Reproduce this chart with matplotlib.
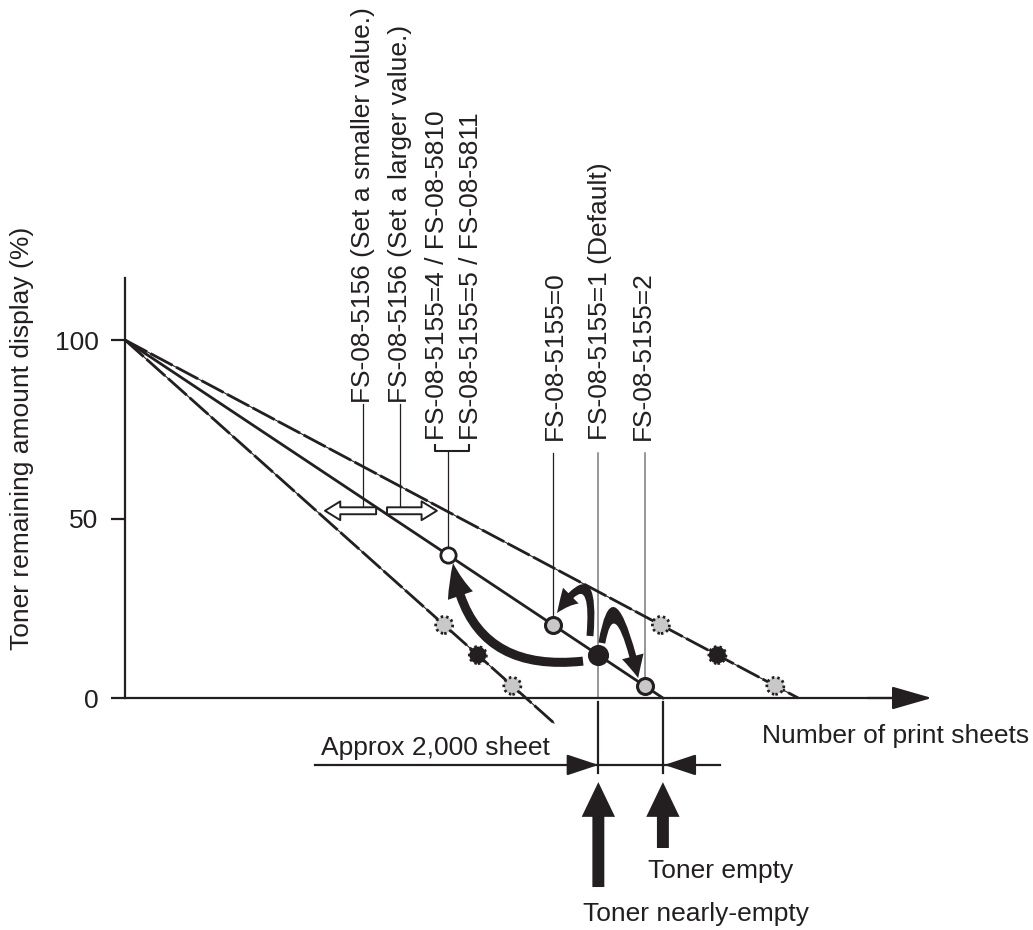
import numpy as np
import matplotlib.pyplot as plt
from matplotlib.path import Path
from matplotlib.patches import FancyArrowPatch

plt.rcParams['font.family'] = ['Liberation Sans', 'DejaVu Sans']

# ---- data (x in 1,000 sheets, y in % remaining) ----
y_ticks = [0, 50, 100]
line_names = ['smaller', 'default', 'larger']
empty_at = [12.15, 16.3, 20.4]          # sheets where each curve hits 0 %
line_styles = ['dashed', 'solid', 'dashed']
mark_levels = [20.4, 12.0, 3.4]         # FS-08-5155 = 0 / 1 / 2
mark_fill = ['#c8c8c8', '#231f20', '#c8c8c8']
open_level = 40.0                       # FS-08-5155 = 4 / 5
gap_sheets = 2.0                        # approx 2,000 sheet

top_labels = ['FS-08-5156 (Set a smaller value.)',
              'FS-08-5156 (Set a larger value.)',
              'FS-08-5155=4 / FS-08-5810',
              'FS-08-5155=5 / FS-08-5811',
              'FS-08-5155=0',
              'FS-08-5155=1 (Default)',
              'FS-08-5155=2']

ink = '#231f20'
fs = 19

fig = plt.figure(figsize=(10.33, 9.3), dpi=100)
ax = fig.add_axes([125 / 1033, 232 / 930, 772 / 1033, 420 / 930])
ax.set_xlim(0, 772 / 33)
ax.set_ylim(0, 420 / 3.58)

for s in ['top', 'right']:
    ax.spines[s].set_visible(False)
ax.spines['left'].set_linewidth(1.6)
ax.spines['bottom'].set_linewidth(1.6)
ax.spines['left'].set_color(ink)
ax.spines['bottom'].set_color(ink)
ax.set_xticks([])
ax.set_yticks(y_ticks)
ax.set_yticklabels([str(v) for v in y_ticks])
ax.tick_params(axis='y', length=10, width=1.6, pad=9, labelsize=fs,
               color=ink, labelcolor=ink)
ax.set_ylabel('Toner remaining amount display (%)', fontsize=fs, color=ink)
ax.yaxis.set_label_coords(-0.118, 0.617)

# x axis arrow head
ax.annotate('', xy=(24.45, 0), xytext=(22.5, 0), annotation_clip=False,
            arrowprops=dict(arrowstyle='-|>,head_length=2.5,head_width=0.72',
                            mutation_scale=10, lw=1.6, color=ink,
                            shrinkA=0, shrinkB=0))
ax.text(19.30, -10.75, 'Number of print sheets', fontsize=fs, color=ink,
        ha='left', va='center')

# ---- the three curves ----
for name, end, ls in zip(line_names, empty_at, line_styles):
    y_end = -7 if name == 'smaller' else 0
    xs = [0, end * (1 - y_end / 100)]
    ys = [100, y_end]
    if ls == 'solid':
        ax.plot(xs, ys, color=ink, lw=2.0, clip_on=False, zorder=3)
    else:
        ax.plot(xs, ys, color=ink, lw=0.8, clip_on=False, zorder=3)
        ax.plot(xs, ys, color=ink, lw=2.0, ls=(0, (9, 1.4)), clip_on=False, zorder=3)

x_main = lambda lvl: empty_at[1] * (1 - lvl / 100)
x_open = x_main(open_level)
x_marks = [x_main(l) for l in mark_levels]

# leader lines
lead_top = 68.44
ax.plot([x_marks[0]] * 2, [lead_top, mark_levels[0]], color=ink, lw=0.9, zorder=2)
ax.plot([x_marks[1]] * 2, [lead_top, 0], color='#7a7a7a', lw=1.1, zorder=2)
ax.plot([x_marks[2]] * 2, [lead_top, mark_levels[2]], color='#7a7a7a', lw=1.1, zorder=2)
ax.plot([x_open] * 2, [69.0, open_level], color=ink, lw=0.9, zorder=2)
# bracket for =4 / =5
bx = [9.394, 9.394, 10.424, 10.424]
ax.plot(bx, [70.67, 69.0, 69.0, 70.67], color=ink, lw=1.5)

# markers on side curves (dotted edge)
for end in [empty_at[0], empty_at[2]]:
    xs = [end * (1 - l / 100) for l in mark_levels]
    ax.scatter(xs, mark_levels, s=150, c=mark_fill, edgecolors=ink,
               linewidths=2.0, linestyle=(0, (0.9, 1.1)), zorder=5, clip_on=False)

# markers on the default curve
ax.plot(x_open, open_level, 'o', ms=11, mfc='white', mec=ink, mew=2.0, zorder=6)
for x, l, c in zip(x_marks, mark_levels, mark_fill):
    ax.plot(x, l, 'o', ms=13 if c == ink else 11.5, mfc=c, mec=ink, mew=2.2, zorder=6)

# curved arrows
def curved(p0, c, p1, style):
    path = Path([p0, c, p1], [Path.MOVETO, Path.CURVE3, Path.CURVE3])
    ax.add_patch(FancyArrowPatch(path=path, arrowstyle=style, mutation_scale=10,
                                 fc=ink, ec='none', zorder=7, clip_on=False))

curved((13.88, 10.3), (10.39, 6.8), (9.94, 37.7),
       'simple,head_length=2.4,head_width=1.9,tail_width=0.65')
curved((14.09, 17.32), (14.29, 39.8), (13.09, 23.74),
       'simple,head_length=1.6,head_width=1.6,tail_width=0.5')
curved((14.45, 15.36), (14.82, 34.78), (15.55, 5.59),
       'simple,head_length=1.6,head_width=1.6,tail_width=0.5')

# hollow arrows for FS-08-5156
y_h = 52.3
for x0, x1, xl in [(7.61, 6.06, 7.212), (7.94, 9.45, 8.333)]:
    ax.add_patch(FancyArrowPatch((x0, y_h), (x1, y_h),
                                 arrowstyle='simple,head_length=1.1,head_width=1.35,tail_width=0.5',
                                 mutation_scale=10, shrinkA=0, shrinkB=0,
                                 fc='white', ec=ink, lw=1.4, zorder=6))
    ax.plot([xl, xl], [82.0, y_h + 1.0], color=ink, lw=0.9, zorder=2)

# rotated labels
label_x = [7.212, 8.333, 9.455, 10.485, 13.03, 14.394, 15.697]
label_y = [82.4, 82.4, 72.07, 72.07, 72.07, 72.07, 72.07]
for t, x, y in zip(top_labels, label_x, label_y):
    ax.text(x, y, t, rotation=90, ha='center', va='bottom', fontsize=fs, color=ink)

# ---- below the axis ----
x_near = x_marks[1]
x_empty = empty_at[1]
for x in [x_near, x_empty]:
    ax.plot([x, x], [-1.1, -20.9], color=ink, lw=1.6, clip_on=False)
ax.plot([5.76, 18.03], [-18.7, -18.7], color=ink, lw=1.6, clip_on=False)
ax.annotate('', xy=(x_near, -18.7), xytext=(x_near - 0.82, -18.7), annotation_clip=False,
            arrowprops=dict(arrowstyle='-|>,head_length=1.95,head_width=0.65',
                            mutation_scale=10, lw=1.6, color=ink, shrinkA=0, shrinkB=0))
ax.annotate('', xy=(x_near + gap_sheets, -18.7), xytext=(x_empty + 0.88, -18.7),
            annotation_clip=False,
            arrowprops=dict(arrowstyle='-|>,head_length=1.95,head_width=0.65',
                            mutation_scale=10, lw=1.6, color=ink, shrinkA=0, shrinkB=0))
ax.text(5.94, -13.97, 'Approx 2,000 sheet', fontsize=fs, color=ink, ha='left', va='center')

for x, y0 in [(x_near, -52.8), (x_empty, -41.9)]:
    ax.add_patch(FancyArrowPatch((x, y0), (x, -23.5),
                                 arrowstyle='simple,head_length=2.5,head_width=2.4,tail_width=0.86',
                                 mutation_scale=10, shrinkA=0, shrinkB=0,
                                 fc=ink, ec='none', clip_on=False))
ax.text(15.85, -48.3, 'Toner empty', fontsize=fs, color=ink, ha='left', va='center')
ax.text(13.88, -60.2, 'Toner nearly-empty', fontsize=fs, color=ink, ha='left', va='center')

fig.savefig('out.png', dpi=100)
